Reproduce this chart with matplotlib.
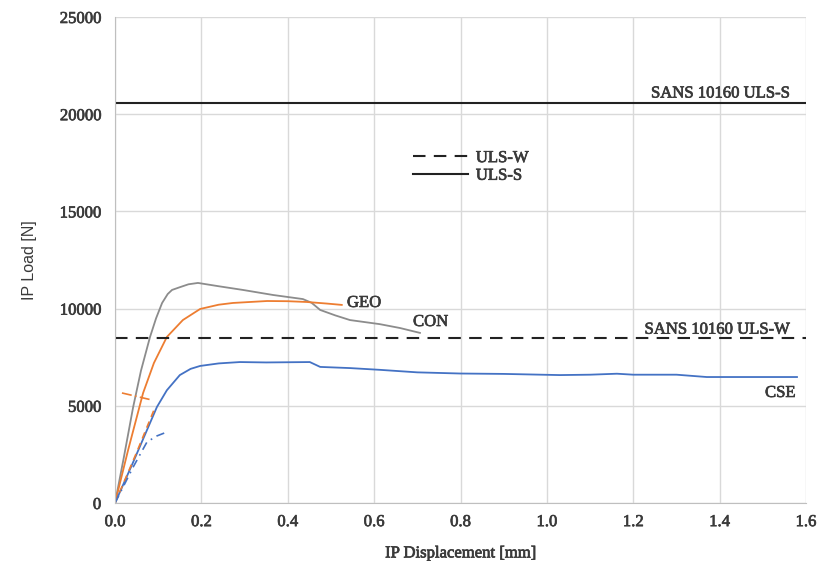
import matplotlib
matplotlib.use("Agg")
from matplotlib import pyplot as plt
import matplotlib.patheffects as pe

# load-displacement curves
con_x = [0.0, 0.02, 0.042, 0.06, 0.081, 0.095, 0.109, 0.122, 0.132, 0.15, 0.17, 0.192, 0.24, 0.296, 0.366, 0.435, 0.455, 0.475, 0.51, 0.544, 0.613, 0.66, 0.706]
con_y = [0, 2300, 4940, 6800, 8540, 9500, 10290, 10750, 10960, 11100, 11250, 11320, 11150, 10960, 10700, 10490, 10300, 9930, 9650, 9410, 9200, 9000, 8750]

geo_x = [0.0, 0.03, 0.065, 0.09, 0.12, 0.157, 0.197, 0.24, 0.273, 0.352, 0.40, 0.444, 0.49, 0.525]
geo_y = [0, 2700, 5660, 7200, 8540, 9410, 9980, 10200, 10290, 10390, 10380, 10340, 10260, 10190]

cse_x = [0.0, 0.04, 0.097, 0.12, 0.15, 0.175, 0.197, 0.24, 0.289, 0.35, 0.451, 0.475, 0.544, 0.613, 0.7, 0.8, 0.9, 1.03, 1.1, 1.162, 1.2, 1.3, 1.37, 1.45, 1.579]
cse_y = [0, 2000, 4940, 5800, 6580, 6900, 7050, 7180, 7250, 7230, 7250, 7000, 6940, 6850, 6720, 6660, 6640, 6580, 6600, 6650, 6600, 6600, 6480, 6480, 6480]

# serviceability parts of the tests
geo_w_x = [0.0, 0.05, 0.093]
geo_w_y = [0, 2600, 4940]
geo_w2_x = [0.016, 0.085]
geo_w2_y = [5660, 5300]
cse_w_x = [0.0, 0.042, 0.074, 0.097, 0.12]
cse_w_y = [0, 1850, 3140, 3450, 3650]

# code limits
uls_s = 20600
uls_w = 8500

x_ticks = [0.0, 0.2, 0.4, 0.6, 0.8, 1.0, 1.2, 1.4, 1.6]
y_ticks = [0, 5000, 10000, 15000, 20000, 25000]

serif = "Liberation Serif"
txt = "#3A3A3A"
blue = "#4472C4"
orange = "#ED7D31"
grey = "#8C8C8C"
heavy = [pe.withStroke(linewidth=0.5, foreground=txt)]

fig = plt.figure(figsize=(8.17, 5.61), dpi=100)
ax = fig.add_axes([0.1408, 0.1034, 0.8458, 0.8663])

ax.plot(con_x, con_y, color=grey, lw=1.3)
ax.plot(geo_x, geo_y, color=orange, lw=1.3)
ax.plot(cse_x, cse_y, color=blue, lw=1.3)
ax.plot(geo_w_x, geo_w_y, color=orange, lw=1.2, ls=(0, (4, 3)))
ax.plot(geo_w2_x, geo_w2_y, color=orange, lw=1.2, ls=(0, (6, 2, 1, 2)))
ax.plot(cse_w_x, cse_w_y, color=blue, lw=1.2, ls=(0, (5, 3, 1, 3)))

# limit lines (also used for the legend)
ax.axhline(uls_w, color="#222222", lw=1.5, ls=(0, (6, 4)), label="ULS-W")
ax.axhline(uls_s, color="#222222", lw=1.5, label="ULS-S")

lab = dict(family=serif, fontsize=12, color=txt, path_effects=heavy)
ax.text(1.562, uls_s + 260, "SANS 10160 ULS-S", ha="right", va="baseline", **lab)
ax.text(1.562, uls_w + 210, "SANS 10160 ULS-W", ha="right", va="baseline", **lab)
ax.text(0.537, 10290, "GEO", ha="left", va="center", **lab)
ax.text(0.69, 9310, "CON", ha="left", va="center", **lab)
ax.text(1.505, 5660, "CSE", ha="left", va="center", **lab)

ax.set_xlim(0, 1.6)
ax.set_ylim(0, 25000)
ax.set_xticks(x_ticks)
ax.set_yticks(y_ticks)
ax.set_xticklabels([f"{t:.1f}" for t in x_ticks], **lab)
ax.set_yticklabels([str(t) for t in y_ticks], **lab)
ax.tick_params(axis="x", length=0, pad=8)
ax.tick_params(axis="y", length=0, pad=10)
ax.grid(True, color="#D9D9D9", lw=1)
ax.set_axisbelow(True)
for s in ["top", "right"]:
    ax.spines[s].set_visible(False)
for s in ["left", "bottom"]:
    ax.spines[s].set_color("#BFBFBF")

ax.set_xlabel("IP Displacement [mm]", labelpad=11, **lab)
ax.set_ylabel("IP Load [N]", family="Liberation Sans", fontsize=11.5, color=txt, labelpad=16)

leg = ax.legend(loc="upper left", bbox_to_anchor=(0.41, 0.757), frameon=False, handlelength=3.25,
                prop={"family": serif, "size": 12}, labelspacing=0.1, handletextpad=0.5)
for t in leg.get_texts():
    t.set_color(txt)
    t.set_path_effects(heavy)

fig.savefig("out.png", dpi=100)
